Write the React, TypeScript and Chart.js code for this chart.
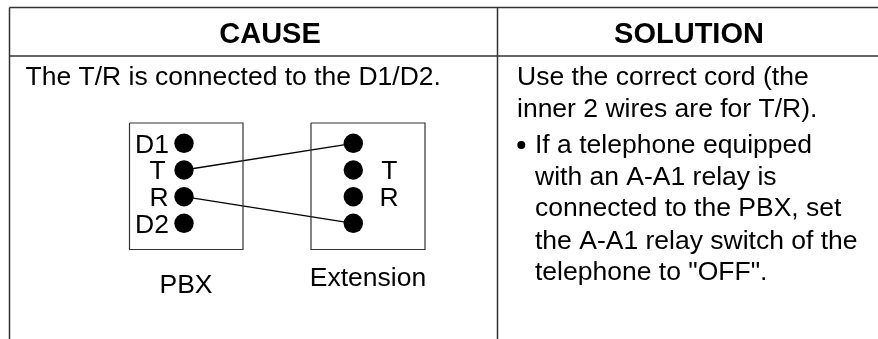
import React, { useEffect, useRef } from "react";
import { Chart, registerables } from "chart.js";

Chart.register(...registerables);

const FONT = '"Liberation Sans", Arial, sans-serif';

// Table rules, as [x1, y1, x2, y2] in the picture's units
const tableRules = [
  [9.5, 7.5, 878, 7.5],
  [9.5, 56, 878, 56],
  [9.5, 7.5, 9.5, 339],
  [497.5, 7.5, 497.5, 339],
];
// Terminal boxes, as [left, top, right, bottom]
const boxes = [
  [129.5, 123, 243, 249.5],
  [311, 123, 425, 249.5],
];
const pbxDotX = [184, 184, 184, 184];
const extDotX = [353.3, 353.3, 353.3, 353.3];
const dotY = [143.3, 170, 196.7, 223.3];
// Crossed wires, as [x1, y1, x2, y2]
const wires = [
  [184, 170, 353.3, 143.3],
  [184, 196.7, 353.3, 223.3],
];
const bulletX = [521.3];
const bulletY = [145];

const headers = ["CAUSE", "SOLUTION"];
const headerX = [270, 689];
const headerY = [43, 43];

const bodyLines = [
  "The T/R is connected to the D1/D2.",
  "Use the correct cord (the",
  "inner 2 wires are for T/R).",
  "If a telephone equipped",
  "with an A-A1 relay is",
  "connected to the PBX, set",
  "the A-A1 relay switch of the",
  'telephone to "OFF".',
];
const bodyX = [25.5, 517, 517, 535, 535, 535, 535, 535];
const bodyY = [85, 85, 117, 153, 184.5, 216, 248.5, 280];

const leftLabels = ["D1", "T", "R", "D2"];
const leftLabelX = [135, 149.5, 149.5, 135];
const leftLabelY = [153, 178.5, 206, 232.5];

const rightLabels = ["T", "R"];
const rightLabelX = [381.2, 379.5];
const rightLabelY = [178.5, 206];

const captions = ["PBX", "Extension"];
const captionX = [186, 368];
const captionY = [293, 286];

const ruleColor = "#333333";
const ink = "#000000";

const segment = (s: number[], w: number, c: string) => ({
  type: "line" as const,
  data: [
    { x: s[0], y: s[1] },
    { x: s[2], y: s[3] },
  ],
  borderColor: c,
  borderWidth: w,
  pointRadius: 0,
  fill: false,
  tension: 0,
});

const textPlugin = {
  id: "tableText",
  afterDatasetsDraw(chart: any) {
    const { ctx, scales } = chart;
    const put = (t: string, x: number, y: number, font: string, align: CanvasTextAlign) => {
      ctx.font = font;
      ctx.textAlign = align;
      ctx.textBaseline = "alphabetic";
      ctx.fillStyle = ink;
      ctx.fillText(t, scales.x.getPixelForValue(x), scales.y.getPixelForValue(y));
    };
    ctx.save();
    const body = `26.5px ${FONT}`;
    headers.forEach((t, i) => put(t, headerX[i], headerY[i], `bold 29px ${FONT}`, "center"));
    bodyLines.forEach((t, i) => put(t, bodyX[i], bodyY[i], body, "left"));
    leftLabels.forEach((t, i) => put(t, leftLabelX[i], leftLabelY[i], body, "left"));
    rightLabels.forEach((t, i) => put(t, rightLabelX[i], rightLabelY[i], body, "left"));
    captions.forEach((t, i) => put(t, captionX[i], captionY[i], body, "center"));
    ctx.restore();
  },
};

export default function App() {
  const ref = useRef<HTMLCanvasElement>(null);
  useEffect(() => {
    const datasets: any[] = [
      ...tableRules.map((s) => segment(s, 1.5, ruleColor)),
      ...boxes.map((b) => ({
        type: "line" as const,
        data: [
          { x: b[0], y: b[1] },
          { x: b[2], y: b[1] },
          { x: b[2], y: b[3] },
          { x: b[0], y: b[3] },
          { x: b[0], y: b[1] },
        ],
        borderColor: ruleColor,
        borderWidth: 1.2,
        pointRadius: 0,
        fill: false,
        tension: 0,
      })),
      ...wires.map((s) => segment(s, 1.3, "#000000")),
      {
        type: "scatter" as const,
        data: pbxDotX.map((x, i) => ({ x, y: dotY[i] })).concat(extDotX.map((x, i) => ({ x, y: dotY[i] }))),
        backgroundColor: "#000000",
        borderWidth: 0,
        pointRadius: 9.7,
      },
      {
        type: "scatter" as const,
        data: bulletX.map((x, i) => ({ x, y: bulletY[i] })),
        backgroundColor: "#000000",
        borderWidth: 0,
        pointRadius: 4,
      },
    ];
    const chart = new Chart(ref.current!, {
      type: "scatter",
      data: { datasets },
      options: {
        animation: false,
        responsive: false,
        layout: { padding: 0, autoPadding: false },
        plugins: { legend: { display: false }, tooltip: { enabled: false }, title: { display: false } },
        scales: {
          x: { type: "linear", min: 0, max: 878, display: false },
          y: { type: "linear", min: 0, max: 339, reverse: true, display: false },
        },
      },
      plugins: [textPlugin],
    });
    return () => chart.destroy();
  }, []);
  return (
    <div style={{ position: "absolute", left: 0, top: 0, width: 878, height: 339, background: "#ffffff" }}>
      <canvas ref={ref} width={878} height={339} style={{ display: "block" }} />
    </div>
  );
}
